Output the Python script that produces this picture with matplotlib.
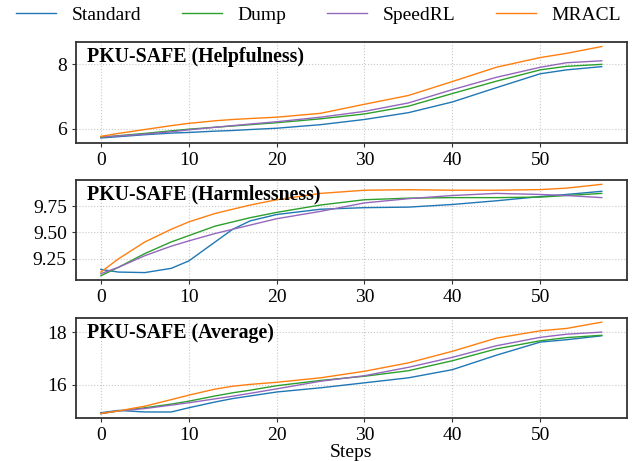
import matplotlib
matplotlib.use("Agg")
import matplotlib.pyplot as plt

plt.rcParams["font.family"] = ["Liberation Serif", "DejaVu Serif"]

steps = [0, 2, 5, 8, 10, 13, 15, 17, 20, 25, 30, 35, 40, 45, 50, 53, 57]

methods = ["Standard", "Dump", "SpeedRL", "MRACL"]
colors = ["#1f77b4", "#2ca02c", "#9467bd", "#ff7f0e"]

# PKU-SAFE (Helpfulness)
help_standard = [5.72, 5.76, 5.82, 5.87, 5.89, 5.93, 5.95, 5.98, 6.02, 6.13, 6.29, 6.50, 6.83, 7.27, 7.70, 7.82, 7.92]
help_dump = [5.74, 5.79, 5.86, 5.94, 5.99, 6.05, 6.09, 6.13, 6.19, 6.31, 6.46, 6.70, 7.09, 7.47, 7.82, 7.93, 7.99]
help_speedrl = [5.75, 5.78, 5.84, 5.91, 5.97, 6.05, 6.10, 6.15, 6.22, 6.36, 6.54, 6.80, 7.21, 7.59, 7.90, 8.04, 8.10]
help_mracl = [5.77, 5.86, 5.98, 6.10, 6.17, 6.25, 6.29, 6.32, 6.36, 6.48, 6.76, 7.03, 7.46, 7.90, 8.20, 8.33, 8.54]

# PKU-SAFE (Harmlessness)
harm_standard = [9.15, 9.125, 9.12, 9.16, 9.23, 9.41, 9.53, 9.61, 9.67, 9.72, 9.735, 9.74, 9.765, 9.80, 9.84, 9.86, 9.89]
harm_dump = [9.09, 9.17, 9.30, 9.41, 9.47, 9.56, 9.60, 9.64, 9.69, 9.76, 9.81, 9.825, 9.83, 9.83, 9.835, 9.85, 9.87]
harm_speedrl = [9.11, 9.17, 9.28, 9.37, 9.42, 9.49, 9.53, 9.57, 9.63, 9.70, 9.78, 9.82, 9.85, 9.87, 9.86, 9.85, 9.83]
harm_mracl = [9.125, 9.25, 9.41, 9.53, 9.60, 9.68, 9.72, 9.76, 9.81, 9.87, 9.90, 9.905, 9.90, 9.90, 9.906, 9.92, 9.956]

# PKU-SAFE (Average)
avg_standard = [14.94, 15.03, 14.97, 14.97, 15.13, 15.35, 15.48, 15.58, 15.73, 15.89, 16.08, 16.27, 16.58, 17.13, 17.63, 17.72, 17.87]
avg_dump = [14.91, 15.01, 15.13, 15.27, 15.38, 15.58, 15.70, 15.80, 15.97, 16.17, 16.33, 16.54, 16.92, 17.37, 17.68, 17.80, 17.89]
avg_speedrl = [14.91, 15.01, 15.10, 15.23, 15.32, 15.47, 15.57, 15.68, 15.85, 16.14, 16.35, 16.67, 17.05, 17.49, 17.81, 17.93, 18.01]
avg_mracl = [14.91, 15.01, 15.19, 15.44, 15.61, 15.84, 15.95, 16.02, 16.10, 16.27, 16.52, 16.84, 17.28, 17.78, 18.06, 18.15, 18.39]

panels = [
    ("PKU-SAFE (Helpfulness)", [help_standard, help_dump, help_speedrl, help_mracl], [6, 8]),
    ("PKU-SAFE (Harmlessness)", [harm_standard, harm_dump, harm_speedrl, harm_mracl], [9.25, 9.50, 9.75]),
    ("PKU-SAFE (Average)", [avg_standard, avg_dump, avg_speedrl, avg_mracl], [16, 18]),
]

fig, axes = plt.subplots(3, 1, figsize=(6.37, 4.61), dpi=100)
fig.subplots_adjust(left=0.119, right=0.984, bottom=0.093, top=0.909, hspace=0.37)

for ax, (title, series, yticks) in zip(axes, panels):
    for name, vals, c in zip(methods, series, colors):
        ax.plot(steps, vals, color=c, linewidth=1.0, label=name)
    ax.set_yticks(yticks)
    if yticks[0] == 9.25:
        ax.set_yticklabels([f"{t:.2f}" for t in yticks])
    ax.set_xticks([0, 10, 20, 30, 40, 50])
    ax.tick_params(labelsize=14, length=3, color="#333333")
    ax.grid(True, linestyle=":", color="#c8c8c8", linewidth=0.8)
    for sp in ax.spines.values():
        sp.set_color("#333333")
        sp.set_linewidth(1.3)
    ax.text(0.02, 0.95, title, transform=ax.transAxes, va="top", ha="left",
            fontsize=14.3, fontweight="bold")

axes[2].set_xlabel("Steps", fontsize=14, labelpad=0)

handles, labels = axes[0].get_legend_handles_labels()
fig.legend(handles, labels, loc="center", bbox_to_anchor=(0.5, 0.968), ncol=4,
           frameon=False, fontsize=14, columnspacing=2.1, handlelength=2.05,
           handletextpad=0.8, borderaxespad=0)

fig.savefig("out.png", dpi=100)
